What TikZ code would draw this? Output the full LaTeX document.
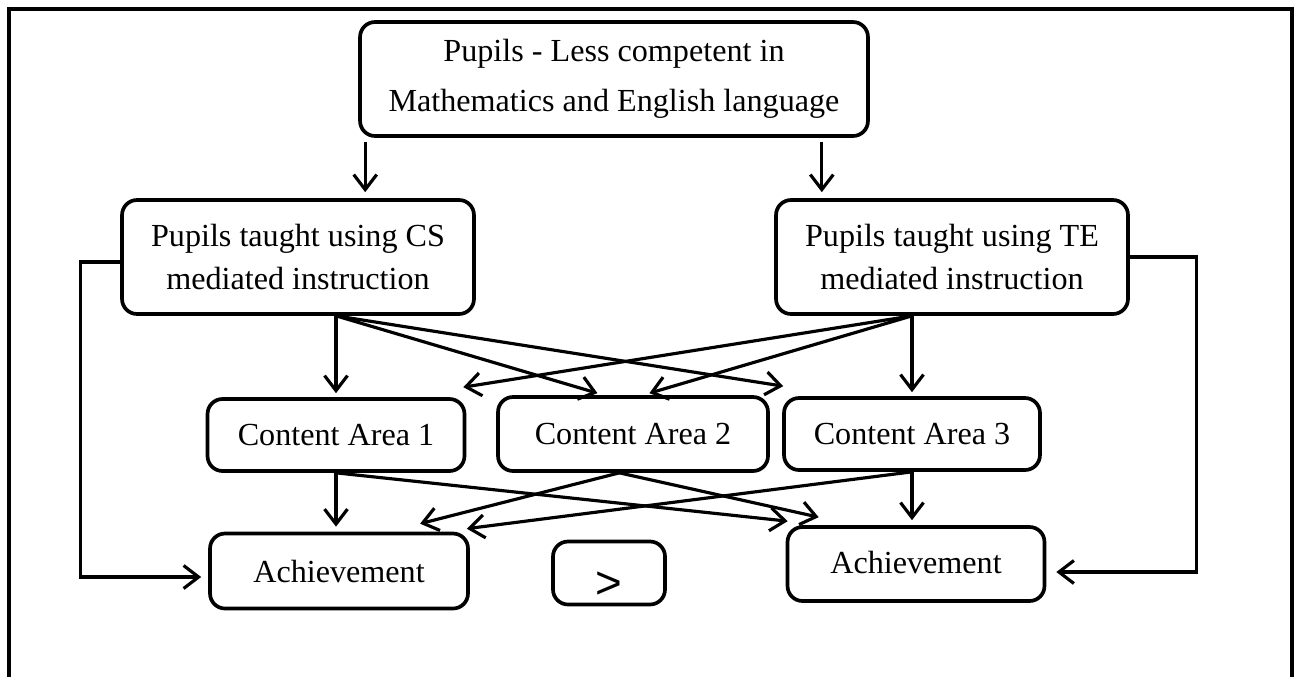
\documentclass[tikz,border=0pt]{standalone}
\usepackage{fontspec}
\setmainfont{Liberation Serif}
\newfontfamily\arialfont{Liberation Sans}
\usetikzlibrary{arrows.meta,calc}

\begin{document}
\begin{tikzpicture}[x=0.02cm,y=-0.02cm,
    box/.style={draw,line width=2.1pt,rounded corners=0.3cm,align=center,inner sep=0pt,
        font=\fontsize{18.3pt}{24.5pt}\selectfont},
    arr/.style={line width=1.8pt,-{Straight Barb[length=0.3cm,width=0.46cm]}}]
    \useasboundingbox (0,0) rectangle (1297,677);
    % frame, open at the bottom
    \draw[line width=2.5pt] (9,677) -- (9,9) -- (1292,9) -- (1292,677);
    % boxes
    \node[box,minimum width=10.16cm,minimum height=2.28cm] (pupils) at (614,79) {Pupils - Less competent in\\[4pt]Mathematics and English language};
    \node[box,minimum width=7.04cm,minimum height=2.28cm] (cs) at (298,257) {Pupils taught using CS\\mediated instruction};
    \node[box,minimum width=7.04cm,minimum height=2.28cm] (te) at (952,257) {Pupils taught using TE\\mediated instruction};
    \node[box,minimum width=5.14cm,minimum height=1.44cm] (ca1) at (336,435) {Content Area 1};
    \node[box,minimum width=5.4cm,minimum height=1.48cm] (ca2) at (633,434) {Content Area 2};
    \node[box,minimum width=5.12cm,minimum height=1.44cm] (ca3) at (912,434) {Content Area 3};
    \node[box,minimum width=5.16cm,minimum height=1.5cm] (achL) at (339,571) {Achievement};
    \node[box,minimum width=2.24cm,minimum height=1.26cm] (gt) at (609,573) {\smash{\raisebox{-0.5cm}{\arialfont\fontsize{26pt}{28pt}\selectfont >}}};
    \node[box,minimum width=5.14cm,minimum height=1.48cm] (achR) at (916,564) {\smash{\raisebox{-0.18cm}{Achievement}}};
    % top to the two groups
    \draw[arr,shorten <=0.08cm,shorten >=0.12cm] ([xshift=0.14cm]pupils.south west) -- ([xshift=0.14cm]pupils.south west |- cs.north);
    \draw[arr,shorten <=0.08cm,shorten >=0.12cm] ([xshift=-0.96cm]pupils.south east) -- ([xshift=-0.96cm]pupils.south east |- te.north);
    % groups to content areas
    \coordinate (csout) at (cs.south -| ca1);
    \coordinate (teout) at (te.south -| ca3);
    \draw[arr,shorten >=0.08cm] (csout) -- (ca1.north);
    \draw[arr] (csout) -- ($(ca2.north west)!0.37!(ca2.north east)+(0,-2)$);
    \draw[arr] (csout) -- ($(ca3.north west)+(1,-10)$);
    \draw[arr,shorten >=0.08cm] (teout) -- (ca3.north);
    \draw[arr] (teout) -- ($(ca1.north east)+(-3,-10)$);
    \draw[arr] (teout) -- ($(ca2.north west)!0.56!(ca2.north east)+(0,-2)$);
    % content areas to achievement
    \coordinate (ca2out) at ($(ca2.south west)!0.45!(ca2.south east)$);
    \draw[arr,shorten >=0.1cm] (ca1.south) -- (ca1.south |- achL.north);
    \draw[arr] (ca1.south) -- ($(achR.north west)+(2,-4)$);
    \draw[arr] (ca2out) -- ($(achL.north west)!0.81!(achL.north east)+(0,-8)$);
    \draw[arr] (ca2out) -- ($(achR.north west)+(33,-8)$);
    \draw[arr] (ca3.south) -- ($(achL.north east)+(-3,-3)$);
    \draw[arr,shorten >=0.1cm] (ca3.south) -- (ca3.south |- achR.north);
    % side paths
    \draw[arr,shorten >=0.14cm] ([yshift=-0.1cm]cs.west) -- ++(-40,0) |- ([yshift=-0.12cm]achL.west);
    \draw[arr,shorten >=0.2cm] (te.east) -- ++(67,0) |- ([yshift=-0.16cm]achR.east);
\end{tikzpicture}
\end{document}
